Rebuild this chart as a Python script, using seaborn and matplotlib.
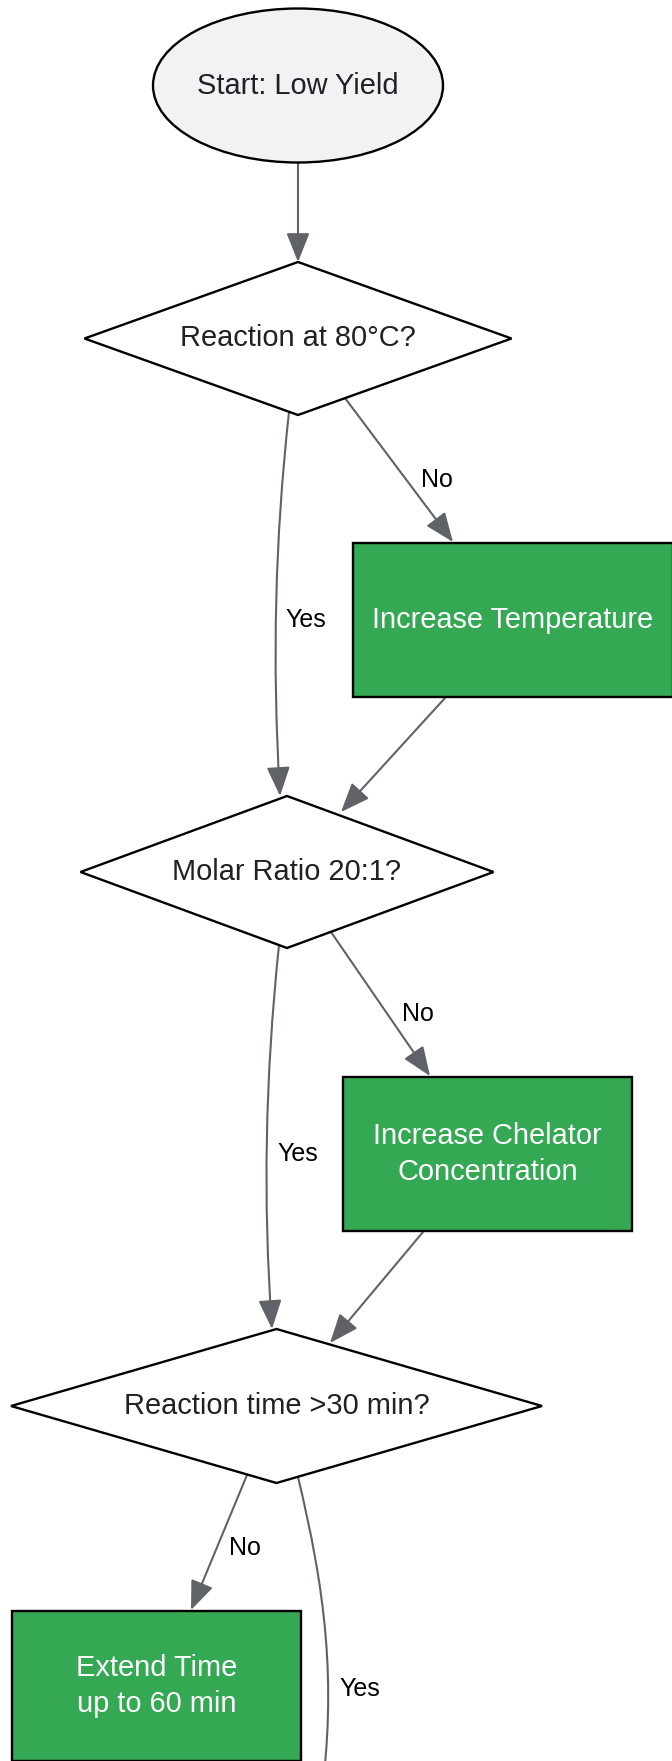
import matplotlib
matplotlib.use("Agg")
import matplotlib.pyplot as plt
import numpy as np
import seaborn as sns
from matplotlib.patches import Ellipse, Polygon, Rectangle, FancyArrowPatch
from matplotlib.path import Path

# nodes of the troubleshooting flow
node_ids = ["start", "temp_q", "temp_fix", "ratio_q", "ratio_fix", "time_q", "time_fix"]
node_labels = [
    "Start: Low Yield",
    "Reaction at 80°C?",
    "Increase Temperature",
    "Molar Ratio 20:1?",
    "Increase Chelator\nConcentration",
    "Reaction time >30 min?",
    "Extend Time\nup to 60 min",
]
node_kinds = ["start", "decision", "action", "decision", "action", "decision", "action"]

# edges: (source, target, label)
edge_src = ["start", "temp_q", "temp_q", "temp_fix", "ratio_q", "ratio_q", "ratio_fix", "time_q", "time_q"]
edge_dst = ["temp_q", "temp_fix", "ratio_q", "ratio_q", "ratio_fix", "time_q", "time_q", "time_fix", "next"]
edge_labels = ["", "No", "Yes", "", "No", "Yes", "", "No", "Yes"]

# ---- layout (pixel space of the 672 x 1761 canvas) ----
node_cx = [298, 298, 513, 287, 487.5, 276.5, 156.5]
node_cy = [85.5, 338.5, 620, 872, 1154, 1406, 1686]
node_w = [290, 427, 320, 413, 289, 531, 289]
node_h = [154, 153, 154, 152, 154, 154, 150]

edge_pts = [
    [(298, 163), (298, 262)],
    [(345, 398), (453, 542)],
    [(289, 412), (275, 540), (272, 660), (280, 796)],
    [(445, 698), (341, 812)],
    [(331, 932), (430, 1076)],
    [(279, 945), (265, 1080), (263, 1200), (272, 1329)],
    [(423, 1232), (330, 1343)],
    [(247, 1475), (191, 1610)],
    [(298, 1477), (325, 1590), (337, 1680), (321, 1800)],
]
label_pos = [None, (437, 480), (306, 620), None, (418, 1014), (298, 1154), None, (245, 1548), (360, 1689)]

GREEN = "#34a853"
EDGE = "#5f6368"
START_FILL = "#f1f2f4"
TEXT = "#202124"

sns.set_theme(style="white")
plt.rcParams["font.family"] = ["Liberation Sans", "DejaVu Sans"]

fig = plt.figure(figsize=(6.72, 17.61), dpi=100)
ax = fig.add_axes([0, 0, 1, 1])
ax.set_xlim(0, 672)
ax.set_ylim(1761, 0)
ax.axis("off")

node_fs = 20.9
edge_fs = 18

for i, kind in enumerate(node_kinds):
    cx, cy, w, h = node_cx[i], node_cy[i], node_w[i], node_h[i]
    if kind == "start":
        ax.add_patch(Ellipse((cx, cy), w, h, facecolor=START_FILL, edgecolor="black", lw=1.7, zorder=2))
        color = TEXT
    elif kind == "decision":
        pts = [(cx, cy - h / 2), (cx + w / 2, cy), (cx, cy + h / 2), (cx - w / 2, cy)]
        ax.add_patch(Polygon(pts, closed=True, facecolor="white", edgecolor="black", lw=1.7, zorder=2))
        color = TEXT
    else:
        ax.add_patch(Rectangle((cx - w / 2, cy - h / 2), w, h, facecolor=GREEN, edgecolor="black", lw=1.7, zorder=2))
        color = "white"
    ax.text(cx, cy, node_labels[i], ha="center", va="center", fontsize=node_fs,
            color=color, linespacing=1.35, zorder=3)

for pts, lab, lp, dst in zip(edge_pts, edge_labels, label_pos, edge_dst):
    if len(pts) == 2:
        codes = [Path.MOVETO, Path.LINETO]
    else:
        codes = [Path.MOVETO, Path.CURVE4, Path.CURVE4, Path.CURVE4]
    style = "-" if dst == "next" else "-|>,head_length=0.9,head_width=0.36"
    arr = FancyArrowPatch(path=Path(pts, codes), arrowstyle=style, mutation_scale=20,
                          color=EDGE, lw=1.5, zorder=1)
    ax.add_patch(arr)
    if lab:
        ax.text(lp[0], lp[1], lab, ha="center", va="center", fontsize=edge_fs, color="black", zorder=3)

fig.savefig("out.png", dpi=100)
